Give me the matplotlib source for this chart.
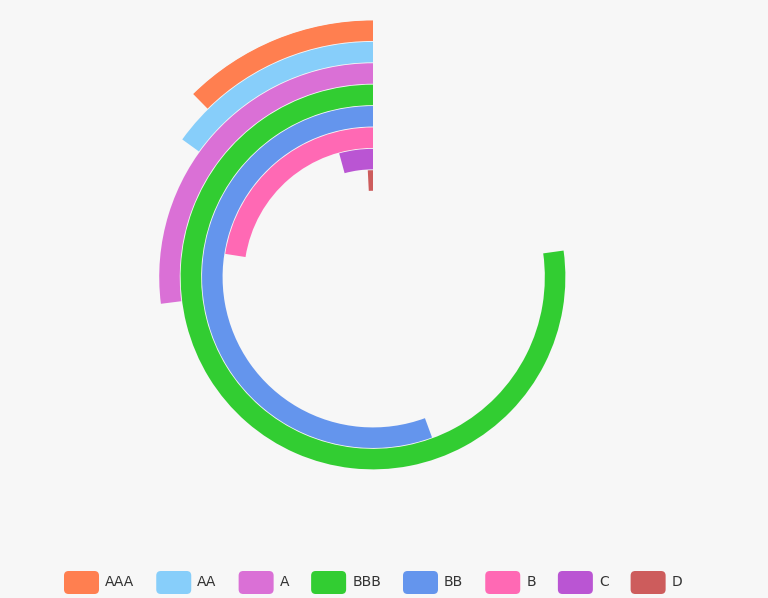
import matplotlib
matplotlib.use("Agg")
import matplotlib.pyplot as plt
from matplotlib.patches import FancyBboxPatch
import numpy as np

# data: ring categories (outer -> inner), values as angle in degrees of a full 360 turn
categories = ["AAA", "AA", "A", "BBB", "BB", "B", "C", "D"]
values = [44.5, 54.2, 97.2, 277.9, 200.2, 81.1, 15.3, 2.8]
angle_max = 360.0
colors = ["#ff7f50", "#87cefa", "#da70d6", "#32cd32",
          "#6495ed", "#ff69b4", "#ba55d3", "#cd5c5c"]

W, H = 768, 598
bg = "#f7f7f7"
fig = plt.figure(figsize=(W / 100, H / 100), dpi=100, facecolor=bg)

# polar area in pixels
cx, cy, R = 373, 277, 257
band = 21.4
inner = R - band * len(categories)

ax = fig.add_axes([(cx - R) / W, (H - cy - R) / H, 2 * R / W, 2 * R / H],
                  projection="polar")
ax.set_theta_zero_location("N")
ax.set_theta_direction(1)
n = len(categories)
ax.set_ylim(-0.5, n - 0.5)
ax.set_rorigin(-0.5 - inner / band)

# innermost ring is the last category
pos = np.arange(n)[::-1]
theta = np.deg2rad(np.array(values) / angle_max * 360)
ax.bar(np.zeros(n), 0.96, width=theta, bottom=pos - 0.48, align="edge",
       color=colors, edgecolor="none")
ax.set_axis_off()

# legend at the bottom
renderer = fig.canvas.get_renderer()
x = 64
yc = (H - 582.5) / H
iw, ih = 35, 23
for name, c in zip(categories, colors):
    p = FancyBboxPatch((x / W, yc - ih / 2 / H), iw / W, ih / H,
                       boxstyle="round,pad=0,rounding_size=0.006",
                       transform=fig.transFigure, facecolor=c, edgecolor="none",
                       mutation_aspect=W / H)
    fig.patches.append(p)
    t = fig.text((x + iw + 6) / W, yc, name, ha="left", va="center",
                 fontsize=10, color="#333333", family="DejaVu Sans")
    tw = t.get_window_extent(renderer).width
    x = x + iw + 6 + tw + 22

fig.savefig("out.png", dpi=100, facecolor=bg)
